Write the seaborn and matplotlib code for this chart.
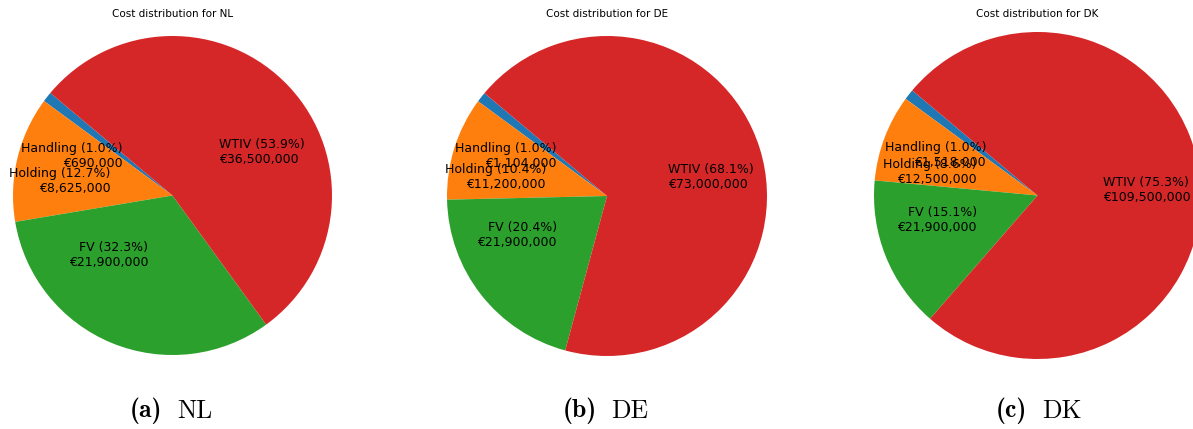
import matplotlib
matplotlib.use("Agg")
import matplotlib.pyplot as plt
import seaborn as sns

# Cost components per country (EUR)
components = ["Handling", "Holding", "FV", "WTIV"]
countries = ["NL", "DE", "DK"]
captions = ["(a)", "(b)", "(c)"]
costs_nl = [690000, 8625000, 21900000, 36500000]
costs_de = [1104000, 11200000, 21900000, 73000000]
costs_dk = [1518000, 12500000, 21900000, 109500000]
all_costs = [costs_nl, costs_de, costs_dk]

colors = sns.color_palette("tab10", 4)

W, H = 1193, 429
fig = plt.figure(figsize=(W / 100, H / 100), dpi=100)

# pie centre (px from left, px from top) and radius (px) for each panel
panels = [(172.5, 195.5, 159.5), (607.0, 196.0, 160.0), (1037.5, 195.5, 163.5)]

for country, cap, costs, (cx, cy, r) in zip(countries, captions, all_costs, panels):
    ax = fig.add_axes([(cx - r) / W, (H - cy - r) / H, 2 * r / W, 2 * r / H])
    total = sum(costs)
    labels = [f"{name} ({100 * v / total:.1f}%)\n€{v:,}" for name, v in zip(components, costs)]
    ax.pie(costs, labels=labels, colors=colors, startangle=140,
           labeldistance=0.4, textprops={"fontsize": 9})
    ax.set_xlim(-1, 1)
    ax.set_ylim(-1, 1)
    ax.set_aspect("equal")

    # panel title, aligned across all three panels
    fig.text(cx / W, 1 - 14 / H, f"Cost distribution for {country}",
             ha="center", va="center", fontsize=7.5)

    # sub-figure caption: bold tag followed by the country code
    ycap = 1 - 411 / H
    fig.text((cx - 10) / W, ycap, cap, ha="right", va="center",
             fontsize=18.5, fontfamily="cmb10")
    fig.text((cx + 4.5) / W, ycap, country, ha="left", va="center",
             fontsize=18.5, fontfamily="cmr10")

fig.savefig("out.png", dpi=100)
